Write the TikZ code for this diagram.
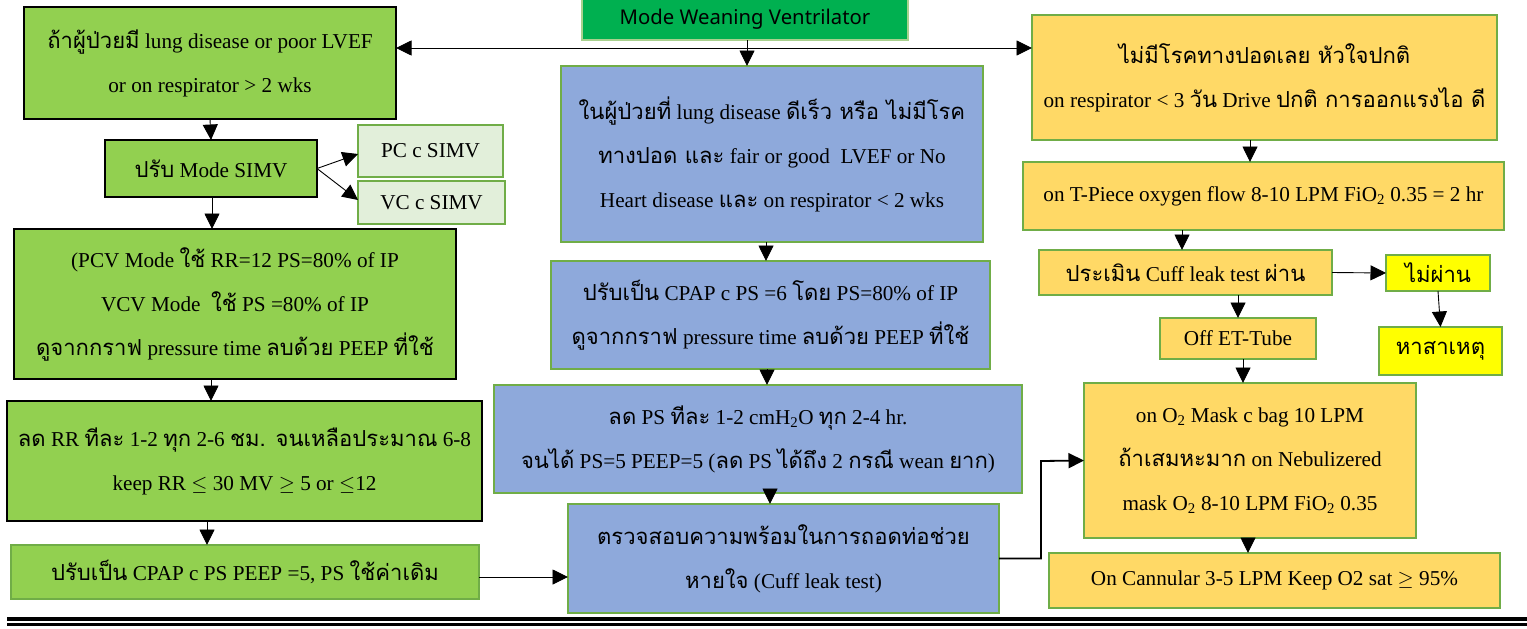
\documentclass[tikz,border=0pt]{standalone}
\usepackage{fontspec}
\setmainfont{Liberation Serif}
\newfontfamily\thaifont[Script=Thai,Scale=1.04]{Loma}
\newfontfamily\headfont{Noto Sans}
\usetikzlibrary{arrows.meta}
\newcommand\tha[1]{{\thaifont #1}}
\newcommand\dn{\textsubscript{2}}
\definecolor{grA}{HTML}{92D050}
\definecolor{grB}{HTML}{00B050}
\definecolor{grBd}{HTML}{70AD47}
\definecolor{grL}{HTML}{E2EFDA}
\definecolor{blu}{HTML}{8EA9DB}
\definecolor{yel}{HTML}{FFD966}
\definecolor{yelb}{HTML}{FFFF00}
\definecolor{topbd}{HTML}{A9D18E}
\tikzset{
  box/.style={inner sep=0pt, outer sep=0pt, align=center, text=black,
    font=\fontsize{21.2}{44}\selectfont},
  gbox/.style={box, fill=grA, draw=black, line width=1.8pt},
  gboxg/.style={box, fill=grA, draw=grBd, line width=2pt},
  lbox/.style={box, fill=grL, draw=grBd, line width=2.2pt},
  bbox/.style={box, fill=blu, draw=grBd, line width=2pt},
  ybox/.style={box, fill=yel, draw=grBd, line width=2pt},
  yboxb/.style={box, fill=yelb, draw=grBd, line width=2pt},
  arr/.style={-{Triangle[length=15.5pt,width=15pt]}, line width=0.9pt},
  sz/.style 2 args={minimum width=#1pt, minimum height=#2pt}
}
\begin{document}
\begin{tikzpicture}[x=1pt,y=-1pt]
\useasboundingbox (0,0) rectangle (1527,629);
% left column
\node[box, fill=grB, draw=topbd, line width=1.5pt, sz={326}{42},
  font=\headfont\fontsize{20.3}{22}\selectfont] (top) at (745,19) {Mode Weaning Ventrilator};
\node[gbox, sz={372}{112}] (A) at (210,63)
  {\tha{ถ้าผู้ป่วยมี} lung disease or poor LVEF\\or on respirator > 2 wks};
\node[gbox, sz={212}{57}] (simv) at (211,168.5) {\tha{ปรับ} Mode SIMV};
\node[lbox, sz={145}{52}] (pc) at (430.5,151) {PC c SIMV};
\node[lbox, sz={147}{43}] (vc) at (431.5,202.5) {VC c SIMV};
\node[gbox, sz={442}{150}] (pcv) at (235,304)
  {(PCV Mode \tha{ใช้} RR=12 PS=80\% of IP\\
   VCV Mode \ \tha{ใช้} PS =80\% of IP\\
   \tha{ดูจากกราฟ} pressure time \tha{ลบด้วย} PEEP \tha{ที่ใช้}};
\node[gbox, sz={475}{120}] (rr) at (244.5,461)
  {\tha{ลด} RR \tha{ทีละ} 1-2 \tha{ทุก} 2-6 \tha{ชม. จนเหลือประมาณ} 6-8\\
   keep RR $\leq$ 30 MV $\geq$ 5 or $\leq$12};
\node[gboxg, sz={468}{54}] (cpapl) at (245,572)
  {\tha{ปรับเป็น} CPAP c PS PEEP =5, PS \tha{ใช้ค่าเดิม}};
% middle column
\node[bbox, sz={422}{176}] (b1) at (772,154)
  {\tha{ในผู้ป่วยที่} lung disease \tha{ดีเร็ว หรือ ไม่มีโรค}\\
   \tha{ทางปอด และ} fair or good \ LVEF or No\\
   Heart disease \tha{และ} on respirator < 2 wks};
\node[bbox, sz={439}{108}] (b2) at (770.5,315)
  {\tha{ปรับเป็น} CPAP c PS =6 \tha{โดย} PS=80\% of IP\\
   \tha{ดูจากกราฟ} pressure time \tha{ลบด้วย} PEEP \tha{ที่ใช้}};
\node[bbox, sz={528}{108}] (b3) at (758,439)
  {\tha{ลด} PS \tha{ทีละ} 1-2 cmH\dn O \tha{ทุก} 2-4 hr.\\
   \tha{จนได้} PS=5 PEEP=5 (\tha{ลด} PS \tha{ได้ถึง} 2 \tha{กรณี} wean \tha{ยาก})};
\node[bbox, sz={431}{109}] (b4) at (783.5,558.5)
  {\tha{ตรวจสอบความพร้อมในการถอดท่อช่วย}\\
   \tha{หายใจ} (Cuff leak test)};
% right column
\node[ybox, sz={465}{125}] (y1) at (1264.5,77.5)
  {\tha{ไม่มีโรคทางปอดเลย หัวใจปกติ}\\
   on respirator < 3 \tha{วัน} Drive \tha{ปกติ การออกแรงไอ ดี}};
\node[ybox, sz={481}{68}] (y2) at (1263.5,196)
  {on T-Piece oxygen flow 8-10 LPM FiO\dn{} 0.35 = 2 hr};
\node[ybox, sz={293}{45}] (cuff) at (1185.5,272.5)
  {\tha{ประเมิน} Cuff leak test \tha{ผ่าน}};
\node[yboxb, sz={104}{36}] (np) at (1438,273) {\tha{ไม่ผ่าน}};
\node[yboxb, sz={123}{48}] (cause) at (1440.5,351) {\tha{หาสาเหตุ}};
\node[ybox, sz={156}{41}] (off) at (1238,338.5) {Off ET-Tube};
\node[ybox, sz={332}{155}] (o2) at (1250,460.5)
  {on O\dn{} Mask c bag 10 LPM\\
   \tha{ถ้าเสมหะมาก} on Nebulizered\\
   mask O\dn{} 8-10 LPM FiO\dn{} 0.35};
\node[ybox, sz={451}{55}] (can) at (1274.5,580.5)
  {On Cannular 3-5 LPM Keep O2 sat $\geq$ 95\%};
% connectors
\coordinate (j) at (747,48);
\draw[arr] (top.south -| j) -- (b1.north -| j);
\draw[arr] (j) -- (A.east |- j);
\draw[arr] (j) -- (y1.west |- j);
\draw[arr] (A.south) -- (simv.north);
\coordinate (pcw) at ([yshift=-3pt]pc.west);
\coordinate (vcw) at ([yshift=2.5pt]vc.west);
\draw[arr] (simv.east) -- (pcw);
\draw[arr] (simv.east) -- (vcw);
\coordinate (s1) at ([xshift=1pt]simv.south);
\draw[arr] (s1) -- (s1 |- pcv.north);
\coordinate (s2) at ([xshift=-24pt]pcv.south);
\draw[arr] (s2) -- (s2 |- rr.north);
\coordinate (s3) at ([xshift=-37.5pt]rr.south);
\draw[arr] (s3) -- (s3 |- cpapl.north);
\coordinate (s4) at ([yshift=-5pt]cpapl.east);
\draw[arr] (s4) -- (b4.west |- s4);
\coordinate (m1) at ([xshift=-6pt]b1.south);
\draw[arr] (m1) -- (m1 |- b2.north);
\coordinate (m2) at ([xshift=-3.5pt]b2.south);
\draw[arr] (m2) -- (m2 |- b3.north);
\coordinate (m3) at ([xshift=12pt]b3.south);
\draw[arr] (m3) -- (m3 |- b4.north);
\coordinate (e) at (1041,461);
\draw[arr, line width=1.8pt] (b4.east) -| (e) -- (o2.west);
\coordinate (r5) at ([xshift=-14.5pt]y1.south);
\draw[arr] (r5) -- (r5 |- y2.north);
\coordinate (r6) at ([xshift=-81.5pt]y2.south);
\draw[arr] (r6) -- (r6 |- cuff.north);
\draw[arr] (cuff.east) -- (np.west);
\draw[arr] (np.south) -- (cause.north);
\coordinate (r7) at ([xshift=52.5pt]cuff.south);
\draw[arr] (r7) -- (r7 |- off.north);
\coordinate (r8) at ([xshift=5pt]off.south);
\draw[arr] (r8) -- (r8 |- o2.north);
\coordinate (r9) at ([xshift=-2pt]o2.south);
\draw[arr] (r9) -- (r9 |- can.north);
% bottom double rule
\coordinate (r1) at (7,619); \coordinate (r2) at (1527,619);
\coordinate (r3) at (7,624.5); \coordinate (r4) at (1527,624.5);
\draw[line width=3.8pt] (r1) -- (r2);
\draw[line width=3.3pt] (r3) -- (r4);
\end{tikzpicture}
\end{document}
